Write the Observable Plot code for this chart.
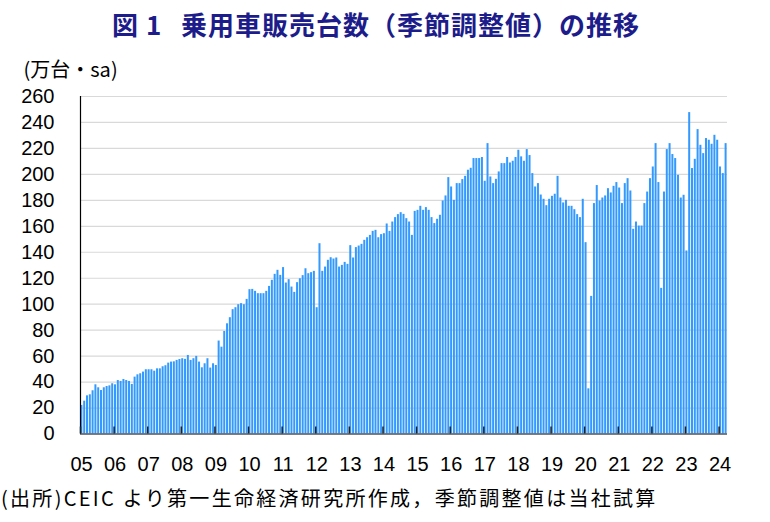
<!DOCTYPE html>
<html>
<head>
<meta charset="utf-8">
<script src="https://cdn.jsdelivr.net/npm/d3@7"></script>
<script src="https://cdn.jsdelivr.net/npm/@observablehq/plot@0.6"></script>
<style>
  html, body { margin: 0; padding: 0; background: #fff; }
  #wrap { width: 770px; height: 522px; position: relative; overflow: hidden; }
  #title { height: 48px; position: relative; font-family: "Noto Sans CJK JP", sans-serif;
           font-weight: 700; font-size: 26px; color: #1c1c8a; white-space: nowrap; }
  #title span { position: absolute; top: 0; line-height: 48px; }
  #chart { height: 440px; }
  #caption { height: 34px; line-height: 20px; padding-left: 1px; font-family: "Noto Sans CJK JP", sans-serif;
             font-size: 20px; letter-spacing: 2.3px; color: #000; white-space: nowrap; }
</style>
</head>
<body>
<div id="wrap">
  <div id="title"><span style="left:112px">図</span><span style="left:146px">1</span><span style="left:181px; letter-spacing:1px">乗用車販売台数（季節調整値）の推移</span></div>
  <div id="chart"></div>
  <div id="caption">(出所)CEIC より第一生命経済研究所作成，季節調整値は当社試算</div>
</div>
<script>
// monthly seasonally adjusted passenger car sales (10k units), Jan 2005 – Mar 2024
const startYear = 2005;
const y2005 = [22.0, 25.3, 29.4, 30.2, 33.3, 37.9, 35.6, 33.5, 35.6, 36.6, 37.1, 38.7];
const y2006 = [37.9, 41.2, 40.5, 42.0, 41.2, 40.5, 38.2, 43.8, 45.6, 46.4, 47.7, 49.5];
const y2007 = [49.5, 49.5, 48.4, 50.2, 50.2, 51.8, 52.6, 54.6, 55.4, 55.6, 56.7, 57.4];
const y2008 = [58.0, 57.5, 60.5, 56.7, 58.0, 59.8, 55.4, 51.0, 54.1, 58.0, 50.8, 54.1];
const y2009 = [52.8, 71.6, 66.9, 79.0, 84.9, 89.6, 95.8, 97.3, 99.6, 100.4, 99.6, 103.7];
const y2010 = [111.2, 111.4, 109.9, 108.1, 108.1, 108.1, 109.9, 113.7, 118.4, 123.0, 126.1, 122.2];
const y2011 = [128.2, 116.3, 118.9, 113.2, 109.1, 116.6, 119.6, 122.0, 127.3, 123.5, 124.3, 125.3];
const y2012 = [97.3, 146.6, 125.3, 128.6, 133.8, 135.8, 134.8, 135.6, 128.6, 129.9, 132.2, 130.7];
const y2013 = [145.1, 135.6, 143.6, 144.8, 146.1, 149.2, 151.2, 153.0, 156.1, 156.9, 151.2, 153.6];
const y2014 = [154.3, 161.8, 156.1, 163.3, 166.7, 169.0, 170.5, 169.2, 165.9, 163.3, 153.0, 171.5];
const y2015 = [172.3, 175.4, 172.3, 174.4, 172.3, 166.7, 162.1, 165.4, 168.5, 179.5, 183.4, 197.5];
const y2016 = [190.3, 180.0, 192.9, 192.9, 196.0, 198.5, 203.2, 204.7, 212.2, 212.2, 212.2, 213.0];
const y2017 = [194.7, 223.7, 198.0, 192.9, 196.2, 201.9, 208.3, 208.3, 213.0, 208.8, 210.1, 213.0];
const y2018 = [218.6, 213.5, 210.1, 219.1, 214.5, 200.6, 190.3, 192.9, 184.1, 180.8, 175.9, 180.8];
const y2019 = [183.1, 184.7, 198.5, 181.8, 178.0, 180.0, 175.4, 175.4, 172.8, 169.0, 166.7, 180.8];
const y2020 = [147.4, 34.8, 106.0, 177.5, 191.4, 179.5, 181.8, 183.4, 189.0, 185.7, 190.8, 193.7];
const y2021 = [189.5, 177.5, 192.9, 196.7, 187.2, 157.7, 163.3, 160.2, 160.2, 177.5, 186.4, 196.7];
const y2022 = [205.7, 223.7, 193.7, 112.2, 186.4, 219.1, 223.7, 215.3, 212.2, 199.3, 181.8, 183.9];
const y2023 = [141.0, 247.6, 204.5, 211.6, 234.5, 222.4, 216.0, 227.6, 226.3, 223.2, 230.1, 226.3];
const y2024 = [205.7, 200.6, 223.7];

const yearLabels = ["05","06","07","08","09","10","11","12","13","14","15","16","17","18","19","20","21","22","23","24"];
const yTicks = [0, 20, 40, 60, 80, 100, 120, 140, 160, 180, 200, 220, 240, 260];
const yUnit = "(万台・sa)";

const series = [y2005, y2006, y2007, y2008, y2009, y2010, y2011, y2012, y2013, y2014,
                y2015, y2016, y2017, y2018, y2019, y2020, y2021, y2022, y2023, y2024].flat();
const data = series.map((v, i) => ({t: startYear + i / 12, v}));
const yearTicks = yearLabels.map((_, i) => startYear + i);
const xEnd = startYear + series.length / 12;

const chart = Plot.plot({
  width: 770,
  height: 440,
  marginLeft: 80,
  marginRight: 43,
  marginTop: 48,
  marginBottom: 54.5,
  style: {fontFamily: "'Liberation Sans', Arial, sans-serif", fontSize: "20px", color: "#000", background: "#fff"},
  x: {domain: [startYear, xEnd]},
  y: {domain: [0, 260]},
  marks: [
    Plot.gridY(yTicks, {stroke: "#d9d9d9", strokeOpacity: 1, strokeWidth: 1.2}),
    Plot.rectY(data, {x1: "t", x2: d => d.t + 1 / 12, y: "v", fill: "#3399ff", insetLeft: 0.4, insetRight: 0.4}),
    Plot.ruleY([0], {stroke: "#595959", strokeWidth: 1.5}),
    Plot.ruleX([startYear], {stroke: "#000", strokeWidth: 1.2}),
    Plot.axisX({ticks: yearTicks, tickSize: -7, tickFormat: () => "", stroke: "#222", strokeWidth: 1.5, label: null}),
    Plot.axisX({ticks: yearTicks, tickSize: 0, tickPadding: 23, tickFormat: (d, i) => yearLabels[i], dx: 1, fontSize: 20, label: null}),
    Plot.axisY({ticks: yTicks, tickSize: 0, tickPadding: 26, fontSize: 20, label: null}),
    Plot.text([yUnit], {frameAnchor: "top-left", dx: -57, dy: -26, textAnchor: "start", lineAnchor: "middle",
      fontSize: 20, fontFamily: "'Noto Sans CJK JP', sans-serif", fill: "#000"})
  ]
});
document.getElementById("chart").appendChild(chart);
</script>
</body>
</html>
